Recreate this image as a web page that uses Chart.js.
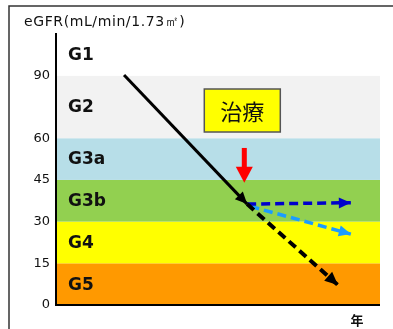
<!DOCTYPE html>
<html lang="ja">
<head>
<meta charset="UTF-8">
<title>eGFR 経過</title>
<script src="https://cdn.jsdelivr.net/npm/chart.js"></script>
<style>
  html, body { margin: 0; padding: 0; background: #fff; }
  #wrap { width: 393px; height: 329px; }
</style>
</head>
<body>
<div id="wrap"><canvas id="grafico"></canvas></div>
<script>
  // ステージ区分
  const stageNames = ["G5", "G4", "G3b", "G3a", "G2", "G1"];
  const stageBounds = [0, 15, 30, 45, 60, 90, 120];
  const boundPos = [0, 1, 2, 3, 4, 5.5, 6.5];
  const stageColors = ["#FF9900", "#FFFF00", "#92D050", "#B7DEE8", "#F2F2F2", "#FFFFFF"];
  const tickValues = [0, 15, 30, 45, 60, 90];

  // 経過（年, eGFR）
  const beforeX = [2.1, 5.9];
  const beforeY = [90.5, 36.3];
  const untreatedX = [5.9, 8.7];
  const untreatedY = [36.3, 7.2];
  const treatAX = [5.9, 9.1];
  const treatAY = [36.3, 36.8];
  const treatBX = [6.0, 9.1];
  const treatBY = [35.5, 25.5];

  // 治療
  const treatLabel = "治療";
  const treatX = 5.75;
  const treatBoxY = 73.3;
  const treatArrowY = [56.5, 44.0];

  // eGFR → 軸上の位置（区分ごとに線形）
  function toPos(v) {
    for (let i = 0; i < stageBounds.length - 1; i++) {
      if (v <= stageBounds[i + 1]) {
        const t = (v - stageBounds[i]) / (stageBounds[i + 1] - stageBounds[i]);
        return boundPos[i] + t * (boundPos[i + 1] - boundPos[i]);
      }
    }
    return boundPos[boundPos.length - 1];
  }
  const pts = (xs, ys) => xs.map((x, i) => ({ x: x, y: toPos(ys[i]) }));

  function head(ctx, a, b, color, len, wid) {
    const ang = Math.atan2(b.y - a.y, b.x - a.x);
    ctx.save();
    ctx.translate(b.x, b.y);
    ctx.rotate(ang);
    ctx.fillStyle = color;
    ctx.beginPath();
    ctx.moveTo(0, 0);
    ctx.lineTo(-len, -wid / 2);
    ctx.lineTo(-len, wid / 2);
    ctx.closePath();
    ctx.fill();
    ctx.restore();
  }

  const fondo = {
    id: "fondo",
    beforeDraw(chart) {
      const { ctx, chartArea: a, scales: { y } } = chart;
      ctx.save();
      for (let i = 0; i < stageNames.length; i++) {
        const top = y.getPixelForValue(boundPos[i + 1]);
        const bot = y.getPixelForValue(boundPos[i]);
        ctx.fillStyle = stageColors[i];
        ctx.fillRect(a.left, top, a.right - a.left, bot - top);
        ctx.fillStyle = "#111";
        ctx.font = 'bold 17px "DejaVu Sans", sans-serif';
        ctx.textAlign = "left";
        ctx.textBaseline = "middle";
        ctx.fillText(stageNames[i], a.left + 12, (top + bot) / 2 + 1);
      }
      ctx.restore();
    },
    afterDraw(chart) {
      const { ctx, chartArea: a, scales: { x, y } } = chart;
      ctx.save();

      // 矢印の先
      chart.data.datasets.forEach((ds, i) => {
        if (!ds.headColor) return;
        const m = chart.getDatasetMeta(i).data;
        const p1 = m[m.length - 2], p2 = m[m.length - 1];
        head(ctx, p1, p2, ds.headColor, ds.headLen, ds.headWid);
      });

      // 治療ボックス
      const cx = x.getPixelForValue(treatX);
      const cy = y.getPixelForValue(toPos(treatBoxY));
      ctx.fillStyle = "#FFFF00";
      ctx.strokeStyle = "#555";
      ctx.lineWidth = 1.5;
      ctx.fillRect(cx - 38, cy - 21.5, 76, 43);
      ctx.strokeRect(cx - 38, cy - 21.5, 76, 43);
      ctx.fillStyle = "#111";
      ctx.font = '22px "Noto Sans CJK JP", sans-serif';
      ctx.textAlign = "center";
      ctx.textBaseline = "middle";
      ctx.fillText(treatLabel, cx, cy + 1);

      // 赤い矢印
      const ax = x.getPixelForValue(treatX) + 2;
      const ay1 = y.getPixelForValue(toPos(treatArrowY[0]));
      const ay2 = y.getPixelForValue(toPos(treatArrowY[1]));
      ctx.fillStyle = "#FF0000";
      ctx.fillRect(ax - 2.5, ay1, 5, ay2 - ay1 - 14);
      head(ctx, { x: ax, y: ay1 }, { x: ax, y: ay2 }, "#FF0000", 16, 17);

      // x軸
      ctx.strokeStyle = "#000";
      ctx.lineWidth = 2;
      ctx.beginPath();
      ctx.moveTo(a.left - 1, a.bottom);
      ctx.lineTo(a.right, a.bottom);
      ctx.stroke();

      // 見出し
      ctx.fillStyle = "#111";
      ctx.font = '14px "DejaVu Sans", sans-serif';
      ctx.letterSpacing = "0.6px";
      ctx.textAlign = "left";
      ctx.textBaseline = "middle";
      ctx.fillText("eGFR(mL/min/1.73㎡)", 24, 22);
      ctx.letterSpacing = "0px";
      ctx.font = 'bold 13px "Noto Sans CJK JP", sans-serif';
      ctx.textAlign = "center";
      ctx.fillText("年", 357, 320);

      // 枠
      ctx.strokeStyle = "#333";
      ctx.lineWidth = 1.5;
      ctx.beginPath();
      ctx.moveTo(9, 329);
      ctx.lineTo(9, 6);
      ctx.lineTo(393, 6);
      ctx.stroke();
      ctx.restore();
    }
  };

  new Chart(document.getElementById("grafico").getContext("2d"), {
    type: "scatter",
    data: {
      datasets: [
        { data: pts(beforeX, beforeY), borderColor: "#000", borderWidth: 3,
          headColor: "#000", headLen: 12, headWid: 11 },
        { data: pts(untreatedX, untreatedY), borderColor: "#000", borderWidth: 4, borderDash: [9, 5],
          headColor: "#000", headLen: 13, headWid: 12 },
        { data: pts(treatAX, treatAY), borderColor: "#0000CC", borderWidth: 3.5, borderDash: [9, 5],
          headColor: "#0000CC", headLen: 12, headWid: 11 },
        { data: pts(treatBX, treatBY), borderColor: "#1A9CFF", borderWidth: 3.5, borderDash: [9, 5],
          headColor: "#1A9CFF", headLen: 12, headWid: 11 }
      ].map(d => Object.assign({ showLine: true, pointRadius: 0, fill: false }, d))
    },
    options: {
      responsive: true,
      maintainAspectRatio: false,
      animation: false,
      layout: { padding: { left: 0, top: 34, right: 13, bottom: 24 } },
      plugins: { legend: { display: false }, tooltip: { enabled: false } },
      scales: {
        x: { type: "linear", min: 0, max: 10, display: false },
        y: {
          type: "linear", min: 0, max: 6.5,
          afterBuildTicks: s => { s.ticks = tickValues.map(v => ({ value: toPos(v) })); },
          afterFit: s => { s.width = 56; },
          grid: { display: false, drawTicks: false },
          border: { display: true, color: "#000", width: 2 },
          ticks: {
            padding: 6,
            color: "#111",
            font: { family: "DejaVu Sans", size: 13 },
            callback: (v, i) => String(tickValues[i])
          }
        }
      }
    },
    plugins: [fondo]
  });
</script>
</body>
</html>
